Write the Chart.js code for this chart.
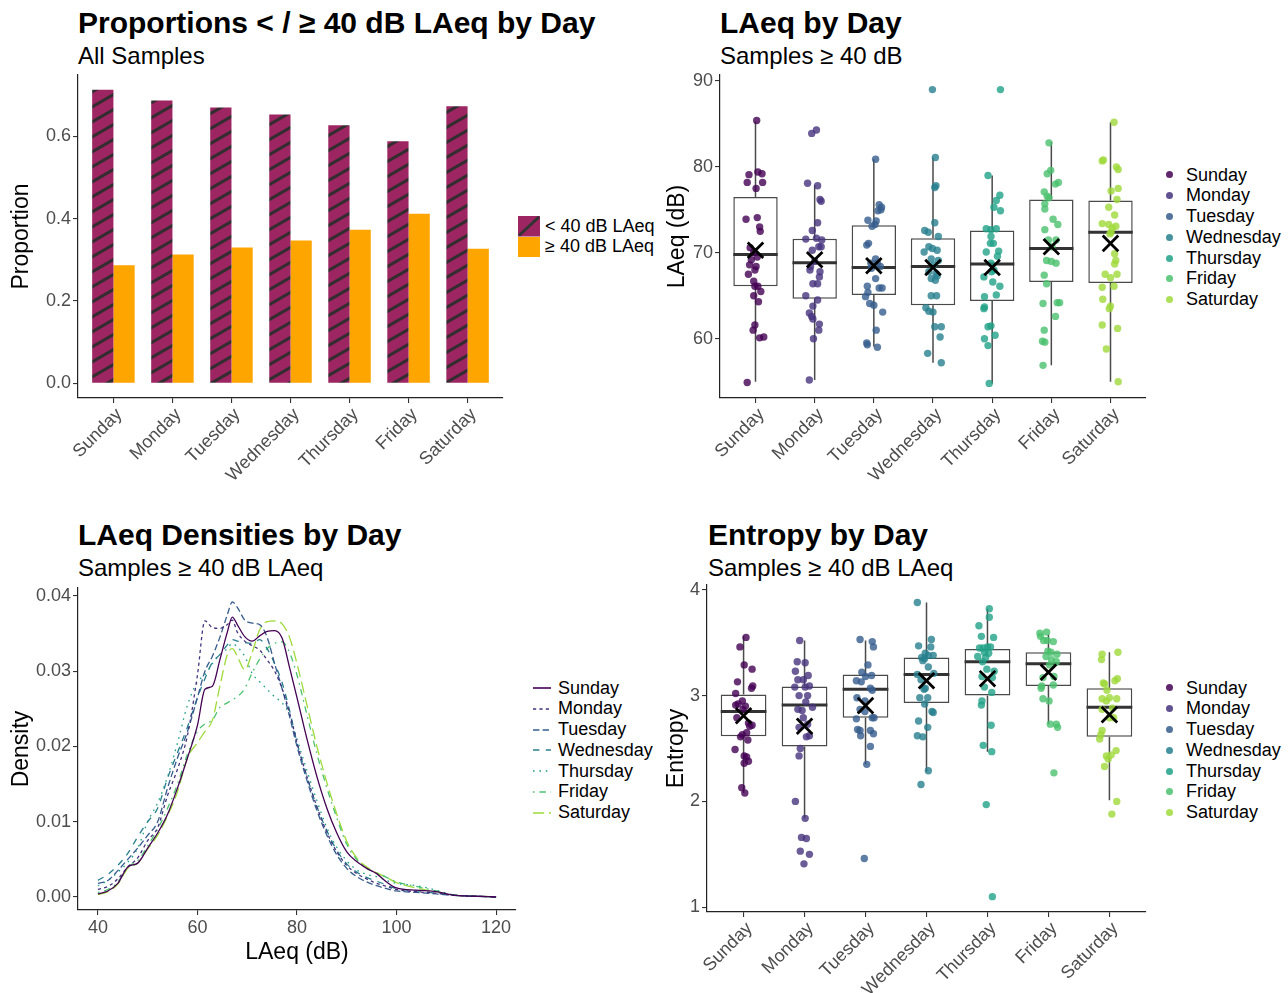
<!DOCTYPE html>
<html lang="en">
<head>
<meta charset="UTF-8" />
<title>LAeq and Entropy by Day</title>
<script src="https://cdn.jsdelivr.net/npm/chart.js"></script>
<style>
  body { margin: 0; background: #fff; font-family: "Liberation Sans", Arial, Helvetica, sans-serif; }
  #page { position: relative; width: 1288px; height: 993px; overflow: hidden; background: #fff; }
  .abs { position: absolute; }
  .title { font-size: 30px; font-weight: bold; line-height: 1; white-space: nowrap; color: #000; }
  .sub { font-size: 24px; line-height: 1; white-space: nowrap; color: #000; }
  .legend { font-size: 18px; color: #000; }
  .legend .row { height: 20.8px; display: flex; align-items: center; white-space: nowrap; }
  .dot { display: inline-block; width: 7px; height: 7px; border-radius: 50%; margin-right: 13px; }
</style>
</head>
<body>
<div id="page">
  <div class="abs title" style="left:78px; top:8px;">Proportions &lt; / ≥ 40 dB LAeq by Day</div>
  <div class="abs sub" style="left:78px; top:44px;">All Samples</div>
  <div class="abs title" style="left:720px; top:8px;">LAeq by Day</div>
  <div class="abs sub" style="left:720px; top:44px;">Samples ≥ 40 dB</div>
  <div class="abs title" style="left:78px; top:520px;">LAeq Densities by Day</div>
  <div class="abs sub" style="left:78px; top:556px;">Samples ≥ 40 dB LAeq</div>
  <div class="abs title" style="left:708px; top:520px;">Entropy by Day</div>
  <div class="abs sub" style="left:708px; top:556px;">Samples ≥ 40 dB LAeq</div>

  <canvas id="propChart" class="abs" width="510" height="420" style="left:0; top:70px;"></canvas>
  <canvas id="laeqChart" class="abs" width="490" height="420" style="left:660px; top:70px;"></canvas>
  <canvas id="densChart" class="abs" width="530" height="413" style="left:0; top:580px;"></canvas>
  <canvas id="entChart" class="abs" width="490" height="413" style="left:660px; top:580px;"></canvas>

  <div id="propLegend" class="abs legend" style="left:518px; top:216px;"></div>
  <div id="laeqLegend" class="abs legend" style="left:1166px; top:164.6px;"></div>
  <div id="densLegend" class="abs legend" style="left:533px; top:677.6px;"></div>
  <div id="entLegend" class="abs legend" style="left:1166px; top:677.6px;"></div>
</div>

<script>
  const days = ['Sunday', 'Monday', 'Tuesday', 'Wednesday', 'Thursday', 'Friday', 'Saturday'];
  const dayX = [1, 2, 3, 4, 5, 6, 7];

  // share of samples below / at or above 40 dB
  const propBelow = [0.713, 0.687, 0.670, 0.653, 0.627, 0.588, 0.673];
  const propAbove = [0.287, 0.313, 0.330, 0.347, 0.373, 0.412, 0.327];

  // LAeq box stats (samples >= 40 dB)
  const laeqLow  = [55.0, 55.2, 59.1, 57.2, 54.8, 56.9, 55.0];
  const laeqQ1   = [66.1, 64.65, 65.1, 63.9, 64.4, 66.6, 66.5];
  const laeqMed  = [69.8, 68.85, 68.3, 68.4, 68.7, 70.5, 72.4];
  const laeqQ3   = [76.5, 71.65, 73.2, 71.7, 72.6, 76.2, 76.1];
  const laeqHigh = [85.3, 77.9, 80.9, 81.1, 79.0, 82.9, 85.2];
  const laeqMean = [70.3, 69.2, 68.5, 68.3, 68.3, 70.7, 71.1];

  // jittered samples: [offset from day, LAeq]
  const laeqPts = [
    [[0.02,85.4],[-0.11,79.1],[0.04,79.4],[0.11,79.2],[-0.14,78.2],[0.12,78.2],[0.01,77.5],[-0.16,73.9],[0.03,74.1],[0.07,73.0],[0.08,72.5],[-0.09,70.6],[-0.03,70.1],[0.03,69.5],[-0.07,69.2],[-0.10,68.6],[0.01,68.4],[-0.01,68.0],[-0.12,67.5],[-0.03,66.7],[0.04,66.1],[0.09,65.5],[-0.01,66.1],[0.05,64.3],[-0.03,65.0],[-0.01,61.6],[-0.04,61.0],[0.07,60.1],[0.14,60.2],[-0.14,54.9]],
    [[-0.05,83.9],[0.03,84.3],[-0.12,78.1],[0.05,77.8],[0.11,76.0],[0.09,76.2],[0.05,73.5],[-0.04,72.6],[-0.15,71.6],[0.03,71.7],[0.12,71.5],[0.07,70.7],[0.11,70.7],[-0.04,70.3],[0.0,69.0],[-0.07,68.4],[-0.08,68.0],[0.09,67.8],[0.08,67.2],[-0.03,66.4],[0.05,66.4],[-0.15,65.0],[0.05,64.5],[-0.03,63.8],[-0.09,63.0],[-0.05,62.6],[-0.03,62.3],[0.08,61.7],[0.07,61.0],[-0.02,60.0],[-0.09,55.2]],
    [[0.03,80.9],[0.09,75.6],[0.13,75.3],[0.07,74.9],[0.12,75.0],[-0.10,73.8],[0.04,73.7],[-0.03,73.1],[0.02,73.3],[-0.12,70.9],[-0.09,71.1],[0.03,69.3],[-0.05,68.8],[0.06,68.8],[0.11,68.4],[-0.04,68.2],[0.03,67.0],[-0.11,66.1],[0.09,65.9],[0.14,65.9],[-0.10,65.4],[-0.14,64.9],[-0.07,64.1],[0.0,63.9],[0.15,63.1],[0.04,61.0],[-0.12,59.5],[-0.11,59.3],[0.06,59.0]],
    [[-0.01,89.0],[0.04,81.1],[0.05,77.8],[0.03,77.6],[0.03,73.5],[-0.14,72.6],[-0.08,72.4],[0.09,71.9],[-0.07,70.7],[-0.01,70.5],[-0.15,70.1],[0.07,70.3],[-0.03,69.3],[0.09,69.1],[0.01,68.6],[-0.07,67.8],[0.05,67.6],[-0.03,67.0],[0.04,66.8],[0.07,67.3],[-0.03,65.0],[0.06,65.0],[-0.12,63.6],[-0.07,63.2],[0.0,63.1],[0.03,61.4],[0.14,61.4],[0.12,60.2],[-0.09,58.3],[0.14,57.2]],
    [[0.14,89.0],[-0.07,79.0],[0.07,76.1],[0.13,76.7],[0.03,75.3],[0.14,74.9],[-0.10,72.8],[-0.02,72.7],[0.07,72.8],[-0.02,71.9],[-0.03,71.1],[0.02,71.1],[-0.10,70.1],[0.11,70.2],[0.09,69.6],[-0.02,68.8],[0.03,68.0],[-0.14,67.2],[-0.01,67.8],[0.01,66.6],[0.13,66.1],[0.07,65.1],[-0.13,64.9],[-0.13,63.7],[-0.14,63.5],[-0.07,61.4],[-0.02,61.5],[0.05,60.4],[-0.13,60.0],[-0.07,59.2],[-0.05,54.8]],
    [[-0.04,82.8],[-0.07,79.2],[-0.01,79.6],[0.07,78.0],[0.12,78.2],[-0.12,77.1],[-0.07,76.6],[-0.04,76.4],[-0.11,75.7],[-0.11,75.1],[0.03,73.9],[0.11,73.3],[-0.11,72.7],[-0.05,71.5],[0.08,71.5],[0.01,70.7],[-0.08,69.1],[0.0,69.0],[0.08,68.8],[-0.12,67.4],[-0.08,66.4],[-0.14,64.1],[0.10,64.2],[0.14,64.2],[0.07,62.6],[-0.12,61.0],[-0.15,59.7],[-0.11,59.6],[-0.14,56.9]],
    [[0.06,85.2],[-0.14,80.7],[-0.12,80.8],[0.10,80.0],[0.13,79.7],[0.01,77.2],[0.13,77.5],[0.11,76.2],[-0.03,75.3],[0.07,74.4],[-0.14,73.4],[-0.03,73.3],[0.09,73.1],[0.03,72.9],[0.01,72.4],[-0.01,72.2],[0.07,69.9],[0.09,69.1],[0.07,68.7],[-0.09,67.5],[0.0,67.1],[0.11,67.5],[-0.14,66.0],[0.06,66.1],[-0.13,64.6],[0.0,63.8],[-0.02,63.5],[-0.14,61.6],[0.12,61.2],[-0.07,58.8],[0.13,55.0]]
  ];

  // entropy box stats
  const entLow  = [2.08, 1.84, 2.35, 2.28, 2.47, 2.73, 2.01];
  const entQ1   = [2.615, 2.52, 2.79, 2.93, 3.00, 3.09, 2.61];
  const entMed  = [2.85, 2.91, 3.06, 3.20, 3.32, 3.30, 2.89];
  const entQ3   = [3.01, 3.085, 3.20, 3.36, 3.44, 3.41, 3.07];
  const entHigh = [3.56, 3.52, 3.52, 3.88, 3.82, 3.58, 3.41];
  const entMean = [2.81, 2.71, 2.905, 3.14, 3.16, 3.22, 2.82];

  const entPts = [
    [[0.04,3.55],[-0.06,3.46],[0.01,3.29],[0.14,3.25],[-0.10,3.13],[0.15,3.09],[0.13,3.07],[-0.13,3.02],[-0.02,2.95],[-0.09,2.92],[-0.13,2.91],[0.03,2.90],[-0.01,2.87],[-0.11,2.79],[0.08,2.74],[0.14,2.72],[0.10,2.71],[0.05,2.65],[-0.02,2.63],[-0.05,2.61],[0.07,2.58],[-0.14,2.49],[0.01,2.43],[0.05,2.42],[0.08,2.38],[0.01,2.36],[-0.03,2.13],[0.02,2.08]],
    [[-0.08,3.52],[-0.12,3.32],[0.01,3.31],[-0.15,3.23],[0.06,3.19],[-0.11,3.15],[-0.02,3.15],[-0.16,3.08],[0.01,3.08],[0.08,3.09],[-0.09,3.00],[0.05,3.00],[0.02,2.94],[-0.11,2.87],[-0.04,2.86],[0.13,2.89],[-0.02,2.79],[0.05,2.73],[-0.09,2.70],[0.08,2.62],[0.03,2.61],[-0.07,2.50],[-0.09,2.43],[-0.15,2.00],[0.01,1.84],[-0.05,1.66],[0.03,1.65],[-0.07,1.53],[0.08,1.50],[-0.01,1.41]],
    [[-0.09,3.53],[0.11,3.51],[0.13,3.46],[0.04,3.29],[-0.06,3.22],[-0.15,3.14],[0.0,3.18],[0.10,3.19],[-0.07,3.13],[0.08,3.07],[0.11,3.05],[-0.14,2.98],[-0.01,2.95],[-0.09,2.87],[-0.01,2.85],[0.11,2.79],[0.14,2.79],[-0.15,2.78],[-0.13,2.68],[-0.09,2.67],[0.08,2.67],[0.13,2.64],[-0.08,2.62],[0.08,2.52],[0.02,2.35],[-0.02,1.46]],
    [[-0.15,3.88],[-0.13,3.47],[-0.08,3.36],[-0.03,3.35],[-0.15,3.20],[-0.09,3.15],[-0.04,3.06],[-0.11,2.98],[-0.03,2.92],[-0.13,2.76],[-0.15,2.62],[-0.06,2.61],[-0.09,2.16],[0.08,3.53],[0.07,3.46],[-0.02,3.40],[0.03,3.38],[0.11,3.38],[-0.06,3.33],[0.03,3.27],[0.12,3.21],[-0.02,3.07],[0.02,2.98],[0.09,2.85],[0.11,2.84],[0.02,2.70],[0.03,2.29]],
    [[0.03,3.82],[0.03,3.74],[-0.14,3.66],[-0.10,3.56],[0.10,3.55],[-0.13,3.45],[-0.07,3.45],[0.0,3.46],[0.05,3.46],[-0.05,3.41],[0.02,3.40],[-0.16,3.37],[-0.03,3.36],[-0.08,3.32],[-0.01,3.25],[0.11,3.23],[-0.09,3.18],[0.08,3.17],[-0.05,3.08],[0.07,3.03],[-0.09,2.95],[-0.10,2.91],[0.06,2.72],[-0.07,2.53],[0.07,2.47],[-0.02,1.97],[0.08,1.10]],
    [[-0.14,3.59],[-0.03,3.60],[-0.13,3.56],[-0.02,3.52],[0.08,3.51],[-0.08,3.52],[-0.01,3.42],[0.04,3.41],[0.14,3.39],[-0.04,3.37],[0.05,3.34],[0.13,3.32],[0.02,3.29],[-0.09,3.17],[0.09,3.18],[-0.11,3.09],[-0.12,3.07],[0.08,3.10],[-0.09,2.97],[0.01,2.95],[0.03,2.73],[0.13,2.73],[0.15,2.70],[0.09,2.27]],
    [[-0.12,3.39],[0.14,3.41],[-0.13,3.34],[-0.10,3.12],[-0.08,3.11],[0.09,3.14],[0.13,3.16],[0.0,2.98],[-0.12,2.97],[0.12,2.97],[-0.05,2.95],[0.05,2.88],[-0.12,2.87],[0.0,2.79],[0.07,2.79],[-0.12,2.67],[-0.14,2.63],[-0.16,2.59],[0.03,2.44],[0.11,2.48],[-0.05,2.43],[-0.02,2.40],[-0.08,2.33],[0.12,2.00],[0.04,1.88],[-0.04,3.05]]
  ];

  // LAeq density curves
  const densX = [40,42,44,46,48,50,52,54,56,58,60,61.5,63,64.5,66,67,68,69.5,71,72.5,74,75.5,77,78.5,80,82,84,86,88,90,92,94,96,98,100,104,108,112,116,120];
  const densSunday    = [.0004,.0008,.0018,.0040,.0045,.0065,.0085,.0110,.0145,.0185,.0228,.0276,.0280,.0315,.0352,.0372,.0362,.0346,.0340,.0347,.0353,.0354,.0344,.0305,.0265,.0210,.0160,.0118,.0085,.0060,.0047,.0038,.0031,.0020,.0012,.0009,.0007,.0002,.0001,0];
  const densMonday    = [.0010,.0014,.0024,.0040,.0052,.0075,.0092,.0135,.0170,.0215,.0295,.0367,.0358,.0357,.0362,.0368,.0352,.0340,.0334,.0328,.0315,.0300,.0277,.0245,.0205,.0160,.0120,.0086,.0060,.0042,.0031,.0024,.0018,.0014,.0010,.0007,.0005,.0002,.0001,0];
  const densTuesday   = [.0018,.0022,.0035,.0050,.0065,.0082,.0100,.0145,.0185,.0220,.0265,.0300,.0320,.0345,.0375,.0392,.0385,.0368,.0364,.0362,.0345,.0310,.0277,.0240,.0200,.0155,.0115,.0082,.0056,.0038,.0027,.0020,.0015,.0011,.0008,.0006,.0004,.0002,.0001,0];
  const densWednesday = [.0022,.0030,.0042,.0058,.0080,.0100,.0118,.0158,.0192,.0226,.0265,.0290,.0312,.0322,.0335,.0342,.0340,.0338,.0337,.0342,.0330,.0310,.0285,.0248,.0205,.0160,.0120,.0088,.0062,.0044,.0033,.0026,.0021,.0016,.0011,.0008,.0005,.0002,.0001,0];
  const densThursday  = [.0015,.0022,.0033,.0046,.0065,.0100,.0125,.0160,.0205,.0255,.0286,.0295,.0310,.0322,.0330,.0337,.0332,.0320,.0297,.0286,.0276,.0266,.0258,.0242,.0210,.0168,.0128,.0092,.0066,.0048,.0036,.0030,.0027,.0022,.0018,.0015,.0009,.0002,.0001,0];
  const densFriday    = [.0006,.0010,.0020,.0040,.0048,.0068,.0090,.0118,.0150,.0190,.0220,.0230,.0235,.0252,.0258,.0262,.0266,.0277,.0298,.0316,.0330,.0337,.0339,.0325,.0295,.0242,.0190,.0145,.0105,.0070,.0050,.0038,.0032,.0026,.0020,.0014,.0008,.0002,.0001,0];
  const densSaturday  = [.0003,.0007,.0017,.0038,.0045,.0064,.0082,.0108,.0140,.0185,.0205,.0220,.0235,.0280,.0322,.0330,.0320,.0302,.0325,.0355,.0366,.0367,.0363,.0345,.0310,.0255,.0200,.0152,.0110,.0074,.0052,.0040,.0032,.0026,.0019,.0012,.0007,.0002,.0001,0];
  const densAll = [densSunday, densMonday, densTuesday, densWednesday, densThursday, densFriday, densSaturday];

  const dayColors = ['#440154', '#46337E', '#365C8D', '#277F8E', '#1FA187', '#4AC16D', '#9FDA3A'];
  const dayDash = [[], [3.2, 3.2], [6.4, 3.2], [6.4, 6.4], [1.6, 4.8], [1.6, 4.8, 6.4, 4.8], [11.2, 4.8]];
  const belowColor = '#9C2562';
  const aboveColor = '#FFA500';

  const FONT = '"Liberation Sans", Arial, Helvetica, sans-serif';
  Chart.defaults.font.family = FONT;
  Chart.defaults.animation = false;
  Chart.defaults.plugins.legend.display = false;
  Chart.defaults.plugins.tooltip.enabled = false;
  Chart.defaults.events = [];

  function rgba(hex, a) {
    const n = parseInt(hex.slice(1), 16);
    return `rgba(${n >> 16},${(n >> 8) & 255},${n & 255},${a})`;
  }

  // fixed-size axis boxes so the plot areas line up like the original
  function noPad(s) { s.paddingTop = 0; s.paddingBottom = 0; s.paddingLeft = 0; s.paddingRight = 0; }

  function yAxis(min, max, tickVals, fmt, title, width, titlePad) {
    return {
      type: 'linear', min, max,
      afterBuildTicks: s => { s.ticks = tickVals.map(v => ({ value: v })); },
      afterFit: s => { s.width = width; noPad(s); },
      border: { display: true, color: '#222', width: 1.2 },
      grid: { display: true, drawOnChartArea: false, drawTicks: true, tickLength: 5, color: '#333', lineWidth: 1.1 },
      ticks: { color: '#4D4D4D', font: { size: 18 }, padding: 2, callback: fmt },
      title: { display: true, text: title, color: '#000', font: { size: 23 }, padding: { top: titlePad, bottom: 0 } }
    };
  }

  function dayAxis(height) {
    return {
      type: 'linear', min: 0.4, max: 7.6, offset: false,
      afterBuildTicks: s => { s.ticks = dayX.map(v => ({ value: v })); },
      afterFit: s => { s.height = height; noPad(s); },
      border: { display: true, color: '#222', width: 1.2 },
      grid: { display: true, offset: false, drawOnChartArea: false, drawTicks: true, tickLength: 5, color: '#333', lineWidth: 1.1 },
      ticks: { color: '#4D4D4D', font: { size: 18 }, padding: 1, minRotation: 45, maxRotation: 45, autoSkip: false,
               labelOffset: 6, callback: v => days[v - 1] }
    };
  }

  const layoutOf = (l, t, r, b) => ({ autoPadding: false, padding: { left: l, top: t, right: r, bottom: b } });

  // diagonal hatch for the "< 40 dB" bars
  function hatch() {
    const w = 26, h = 15;
    const c = document.createElement('canvas');
    c.width = w; c.height = h;
    const g = c.getContext('2d');
    g.fillStyle = belowColor;
    g.fillRect(0, 0, w, h);
    g.strokeStyle = 'rgba(45,45,45,0.95)';
    g.lineWidth = 3;
    for (const off of [-h, 0, h]) {
      g.beginPath();
      g.moveTo(-w, 2 * h + off);
      g.lineTo(2 * w, -h + off);
      g.stroke();
    }
    return g.createPattern(c, 'repeat');
  }

  // ---- proportions ----
  new Chart(document.getElementById('propChart'), {
    type: 'bar',
    data: {
      datasets: [
        { label: '< 40 dB LAeq', data: dayX.map((x, i) => ({ x, y: propBelow[i] })), backgroundColor: hatch(),
          categoryPercentage: 0.72, barPercentage: 1, borderWidth: 0 },
        { label: '≥ 40 dB LAeq', data: dayX.map((x, i) => ({ x, y: propAbove[i] })), backgroundColor: aboveColor,
          categoryPercentage: 0.72, barPercentage: 1, borderWidth: 0 }
      ]
    },
    options: {
      responsive: false, devicePixelRatio: 1,
      layout: layoutOf(0, 5, 7, 0),
      scales: {
        x: dayAxis(92),
        y: yAxis(-0.0357, 0.749, [0, 0.2, 0.4, 0.6], v => v.toFixed(1), 'Proportion', 78, 8)
      }
    }
  });

  function boxDatasets(low, q1, med, q3, high, mean, pts) {
    const ds = [];
    ds.push({ type: 'scatter', data: dayX.map((x, i) => ({ x, y: mean[i] })), pointStyle: 'crossRot',
              pointRadius: 11, borderColor: '#000', pointBorderWidth: 2.8, backgroundColor: '#000', order: 0 });
    pts.forEach((p, d) => ds.push({
      type: 'scatter', data: p.map(([j, v]) => ({ x: dayX[d] + j, y: v })),
      pointRadius: 3.7, pointBorderWidth: 0, borderWidth: 0, backgroundColor: rgba(dayColors[d], 0.8), order: 1
    }));
    const medSeg = [];
    dayX.forEach((x, i) => medSeg.push({ x: x - 0.375, y: med[i] }, { x: x + 0.375, y: med[i] }, { x, y: null }));
    ds.push({ type: 'line', data: medSeg, borderColor: '#333', borderWidth: 3, pointRadius: 0, spanGaps: false, order: 2 });
    ds.push({ type: 'bar', data: dayX.map((x, i) => ({ x, y: [q1[i], q3[i]] })), backgroundColor: '#fff',
              borderColor: '#4a4a4a', borderWidth: 1.5, borderSkipped: false, categoryPercentage: 0.75, barPercentage: 1, order: 3 });
    const wSeg = [];
    dayX.forEach((x, i) => wSeg.push({ x, y: low[i] }, { x, y: q1[i] }, { x, y: null },
                                     { x, y: q3[i] }, { x, y: high[i] }, { x, y: null }));
    ds.push({ type: 'line', data: wSeg, borderColor: '#4a4a4a', borderWidth: 1.5, pointRadius: 0, spanGaps: false, order: 4 });
    return ds;
  }

  // ---- LAeq box plot ----
  new Chart(document.getElementById('laeqChart'), {
    type: 'bar',
    data: { datasets: boxDatasets(laeqLow, laeqQ1, laeqMed, laeqQ3, laeqHigh, laeqMean, laeqPts) },
    options: {
      responsive: false, devicePixelRatio: 1,
      layout: layoutOf(0, 5, 4, 0),
      scales: {
        x: dayAxis(92),
        y: yAxis(53.1, 90.7, [60, 70, 80, 90], v => String(v), 'LAeq (dB)', 60, 4)
      }
    }
  });

  // ---- densities ----
  new Chart(document.getElementById('densChart'), {
    type: 'line',
    data: {
      datasets: densAll.map((arr, d) => ({
        label: days[d],
        data: densX.map((x, i) => ({ x, y: arr[i] })),
        borderColor: dayColors[d], borderWidth: 1.3, borderDash: dayDash[d],
        pointRadius: 0, fill: false, cubicInterpolationMode: 'monotone'
      }))
    },
    options: {
      responsive: false, devicePixelRatio: 1,
      layout: layoutOf(0, 8, 14, 23),
      scales: {
        x: {
          type: 'linear', min: 36, max: 124,
          afterBuildTicks: s => { s.ticks = [40, 60, 80, 100, 120].map(v => ({ value: v })); },
          afterFit: s => { s.height = 60; noPad(s); },
          border: { display: true, color: '#222', width: 1.2 },
          grid: { display: true, drawOnChartArea: false, drawTicks: true, tickLength: 5, color: '#333', lineWidth: 1.1 },
          ticks: { color: '#4D4D4D', font: { size: 18 }, padding: 2, minRotation: 0, maxRotation: 0 },
          title: { display: true, text: 'LAeq (dB)', color: '#000', font: { size: 23 }, padding: { top: 0, bottom: 4 } }
        },
        y: yAxis(-0.00173, 0.04106, [0, 0.01, 0.02, 0.03, 0.04], v => v.toFixed(2), 'Density', 78, 8)
      }
    }
  });

  // ---- entropy box plot ----
  new Chart(document.getElementById('entChart'), {
    type: 'bar',
    data: { datasets: boxDatasets(entLow, entQ1, entMed, entQ3, entHigh, entMean, entPts) },
    options: {
      responsive: false, devicePixelRatio: 1,
      layout: layoutOf(0, 5, 4, 0),
      scales: {
        x: dayAxis(81),
        y: yAxis(0.955, 4.045, [1, 2, 3, 4], v => String(v), 'Entropy', 47, 3)
      }
    }
  });

  // ---- legends ----
  document.getElementById('propLegend').innerHTML =
    `<div class="row" style="height:20.5px"><svg width="22" height="20.5" style="margin-right:5px"><rect width="22" height="20.5" fill="${belowColor}"/><line x1="1" y1="19.5" x2="21" y2="1" stroke="#333" stroke-width="3"/></svg>&lt; 40 dB LAeq</div>` +
    `<div class="row" style="height:20.5px"><svg width="22" height="20.5" style="margin-right:5px"><rect width="22" height="20.5" fill="${aboveColor}"/></svg>≥ 40 dB LAeq</div>`;

  const dotRows = days.map((d, i) =>
    `<div class="row"><span class="dot" style="background:${rgba(dayColors[i], 0.85)}"></span>${d}</div>`).join('');
  document.getElementById('laeqLegend').innerHTML = dotRows;
  document.getElementById('entLegend').innerHTML = dotRows;

  document.getElementById('densLegend').innerHTML = days.map((d, i) =>
    `<div class="row"><svg width="18" height="4" style="margin-right:7px"><line x1="0" y1="2" x2="18" y2="2" stroke="${dayColors[i]}" stroke-width="1.6" stroke-dasharray="${dayDash[i].length ? dayDash[i].join(',') : 'none'}"/></svg>${d}</div>`).join('');
</script>
</body>
</html>
